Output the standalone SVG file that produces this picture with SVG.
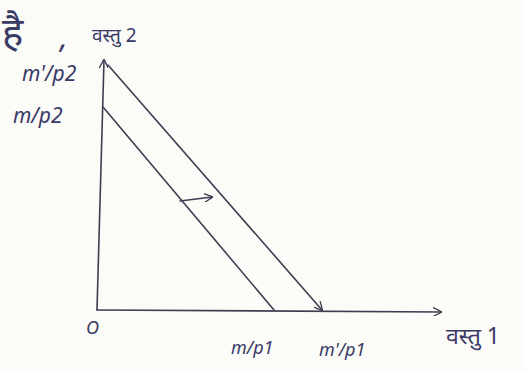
<svg xmlns="http://www.w3.org/2000/svg" width="524" height="371" viewBox="0 0 524 371">
<defs>
<style>
.ln{stroke:#3e3e52;stroke-width:1.6;fill:none;stroke-linecap:round}
.t{font-family:"Noto Sans","Liberation Sans",sans-serif;fill:#3a3a66;font-style:italic}
.d{font-family:"Noto Sans","Noto Sans Devanagari","Liberation Sans",sans-serif;fill:#3a3a66}
</style>
<marker id="ah" viewBox="0 0 10 10" refX="9" refY="5" markerWidth="9" markerHeight="9" orient="auto" markerUnits="userSpaceOnUse">
<path d="M0,0 L10,5 L0,10" fill="none" stroke="#3e3e52" stroke-width="1.5"/>
</marker>
</defs>
<rect width="524" height="371" fill="#fbfbf8"/>
<g id="connectors">
<path id="y-axis" class="ln" d="M97,310 L104,60" marker-end="url(#ah)"/>
<path id="x-axis" class="ln" d="M97,310 L441,312" marker-end="url(#ah)"/>
<path id="budget-line-1" class="ln" d="M103,107 L274,310"/>
<path id="budget-line-2" class="ln" d="M108,65 L322,310" marker-end="url(#ah)"/>
<path id="shift-arrow" class="ln" d="M180,201 L212,197" stroke-width="2.2" marker-end="url(#ah)"/>
</g>
<g id="labels">
<text class="d" x="2" y="46" font-size="40">है</text>
<text class="t" x="60" y="48" font-size="30">,</text>
<text class="d" x="92" y="42" font-size="19">वस्तु 2</text>
<text class="t" x="22" y="81" font-size="21">m'/p2</text>
<text class="t" x="13" y="123" font-size="21">m/p2</text>
<text class="t" x="86" y="334" font-size="18">O</text>
<text class="t" x="231" y="354" font-size="18">m/p1</text>
<text class="t" x="319" y="356" font-size="18">m'/p1</text>
<text class="d" x="446" y="344" font-size="23">वस्तु 1</text>
</g>
</svg>
